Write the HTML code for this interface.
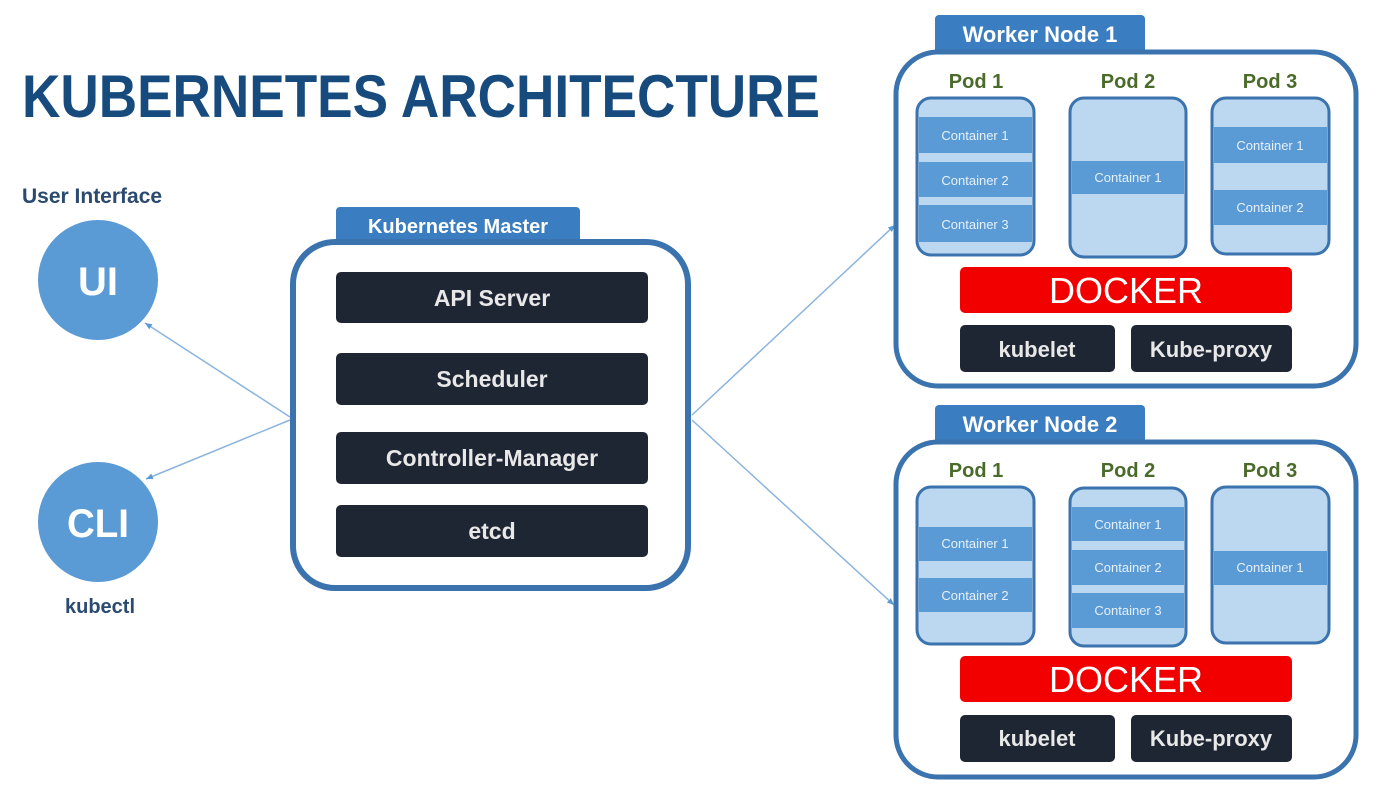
<!DOCTYPE html>
<html><head><meta charset="utf-8"><style>
html,body{margin:0;padding:0;background:#fff;}
svg{display:block;font-family:"Liberation Sans",sans-serif;}
</style></head><body>
<svg width="1376" height="798" viewBox="0 0 1376 798" xmlns="http://www.w3.org/2000/svg">
<defs>
<marker id="ar" markerWidth="8" markerHeight="8" refX="7" refY="4" orient="auto" markerUnits="userSpaceOnUse">
<path d="M0,1 L7,4 L0,7 z" fill="#5b9bd5"/></marker>
</defs>
<text x="22" y="117" font-size="60" font-weight="bold" fill="#174b7e" textLength="798" lengthAdjust="spacingAndGlyphs">KUBERNETES ARCHITECTURE</text>

<text x="22" y="203" font-size="21" font-weight="bold" fill="#2b4a70">User Interface</text>
<circle cx="98" cy="280" r="60" fill="#5b9bd5"/>
<text x="98" y="295" font-size="40" font-weight="bold" fill="#fff" text-anchor="middle">UI</text>
<circle cx="98" cy="522" r="60" fill="#5b9bd5"/>
<text x="98" y="537" font-size="40" font-weight="bold" fill="#fff" text-anchor="middle" textLength="62" lengthAdjust="spacingAndGlyphs">CLI</text>
<text x="100" y="613" font-size="20" font-weight="bold" fill="#2b4a70" text-anchor="middle">kubectl</text>

<g stroke="#8ab4de" stroke-width="1.5" fill="none">
<line x1="290" y1="417" x2="145" y2="323" marker-end="url(#ar)"/>
<line x1="290" y1="420" x2="146" y2="479" marker-end="url(#ar)"/>
<line x1="692" y1="415" x2="895" y2="225" marker-end="url(#ar)"/>
<line x1="692" y1="420" x2="894" y2="605" marker-end="url(#ar)"/>
</g>

<!-- Master -->
<rect x="336" y="207" width="244" height="40" rx="4" fill="#3a7dc0"/>
<text x="458" y="233" font-size="20" font-weight="bold" fill="#fff" text-anchor="middle">Kubernetes Master</text>
<rect x="293" y="242" width="395" height="346" rx="42" fill="#fff" stroke="#3a73ad" stroke-width="6"/>
<g fill="#1e2533">
<rect x="336" y="272" width="312" height="51" rx="5"/>
<rect x="336" y="353" width="312" height="52" rx="5"/>
<rect x="336" y="432" width="312" height="52" rx="5"/>
<rect x="336" y="505" width="312" height="52" rx="5"/>
</g>
<g fill="#e8e8e8" font-size="23" font-weight="bold" text-anchor="middle">
<text x="492" y="306">API  Server</text>
<text x="492" y="387">Scheduler</text>
<text x="492" y="466">Controller-Manager</text>
<text x="492" y="539">etcd</text>
</g>

<!-- Worker Node 1 -->
<g>
<rect x="935" y="15" width="210" height="40" rx="4" fill="#3a7dc0"/>
<text x="1040" y="42" font-size="22" font-weight="bold" fill="#fff" text-anchor="middle">Worker Node 1</text>
<rect x="896" y="52" width="460" height="334" rx="42" fill="#fff" stroke="#3a73ad" stroke-width="5"/>
<g font-size="20" font-weight="bold" fill="#4a6b2a" text-anchor="middle">
<text x="976" y="88">Pod 1</text><text x="1128" y="88">Pod 2</text><text x="1270" y="88">Pod 3</text>
</g>
<g fill="#bcd7f0" stroke="#3a73ad" stroke-width="3">
<rect x="917" y="98" width="117" height="157" rx="14"/>
<rect x="1070" y="98" width="116" height="159" rx="14"/>
<rect x="1212" y="98" width="117" height="156" rx="14"/>
</g>
<g fill="#5b9bd5">
<rect x="919" y="117" width="113" height="36"/><rect x="919" y="162" width="113" height="35"/><rect x="919" y="205" width="113" height="37"/>
<rect x="1072" y="161" width="112" height="33"/>
<rect x="1214" y="127" width="113" height="36"/><rect x="1214" y="190" width="113" height="35"/>
</g>
<g font-size="13" fill="#e6f0fa" text-anchor="middle">
<text x="975" y="140">Container 1</text><text x="975" y="185">Container 2</text><text x="975" y="229">Container 3</text>
<text x="1128" y="182">Container 1</text>
<text x="1270" y="150">Container 1</text><text x="1270" y="212">Container 2</text>
</g>
<rect x="960" y="267" width="332" height="46" rx="5" fill="#f20000"/>
<text x="1126" y="303" font-size="36" fill="#fff" text-anchor="middle">DOCKER</text>
<rect x="960" y="325" width="155" height="47" rx="5" fill="#1e2533"/>
<rect x="1131" y="325" width="161" height="47" rx="5" fill="#1e2533"/>
<text x="1037" y="357" font-size="22" font-weight="bold" fill="#e8e8e8" text-anchor="middle">kubelet</text>
<text x="1211" y="357" font-size="22" font-weight="bold" fill="#e8e8e8" text-anchor="middle">Kube-proxy</text>
</g>

<!-- Worker Node 2 -->
<g>
<rect x="935" y="405" width="210" height="40" rx="4" fill="#3a7dc0"/>
<text x="1040" y="432" font-size="22" font-weight="bold" fill="#fff" text-anchor="middle">Worker Node 2</text>
<rect x="896" y="442" width="460" height="335" rx="42" fill="#fff" stroke="#3a73ad" stroke-width="5"/>
<g font-size="20" font-weight="bold" fill="#4a6b2a" text-anchor="middle">
<text x="976" y="477">Pod 1</text><text x="1128" y="477">Pod 2</text><text x="1270" y="477">Pod 3</text>
</g>
<g fill="#bcd7f0" stroke="#3a73ad" stroke-width="3">
<rect x="917" y="487" width="117" height="157" rx="14"/>
<rect x="1070" y="488" width="116" height="158" rx="14"/>
<rect x="1212" y="487" width="117" height="156" rx="14"/>
</g>
<g fill="#5b9bd5">
<rect x="919" y="527" width="113" height="34"/><rect x="919" y="578" width="113" height="34"/>
<rect x="1072" y="507" width="112" height="34"/><rect x="1072" y="550" width="112" height="35"/><rect x="1072" y="593" width="112" height="35"/>
<rect x="1214" y="551" width="113" height="34"/>
</g>
<g font-size="13" fill="#e6f0fa" text-anchor="middle">
<text x="975" y="548">Container 1</text><text x="975" y="600">Container 2</text>
<text x="1128" y="529">Container 1</text><text x="1128" y="572">Container 2</text><text x="1128" y="615">Container 3</text>
<text x="1270" y="572">Container 1</text>
</g>
<rect x="960" y="656" width="332" height="46" rx="5" fill="#f20000"/>
<text x="1126" y="692" font-size="36" fill="#fff" text-anchor="middle">DOCKER</text>
<rect x="960" y="715" width="155" height="47" rx="5" fill="#1e2533"/>
<rect x="1131" y="715" width="161" height="47" rx="5" fill="#1e2533"/>
<text x="1037" y="746" font-size="22" font-weight="bold" fill="#e8e8e8" text-anchor="middle">kubelet</text>
<text x="1211" y="746" font-size="22" font-weight="bold" fill="#e8e8e8" text-anchor="middle">Kube-proxy</text>
</g>
</svg>
</body></html>
